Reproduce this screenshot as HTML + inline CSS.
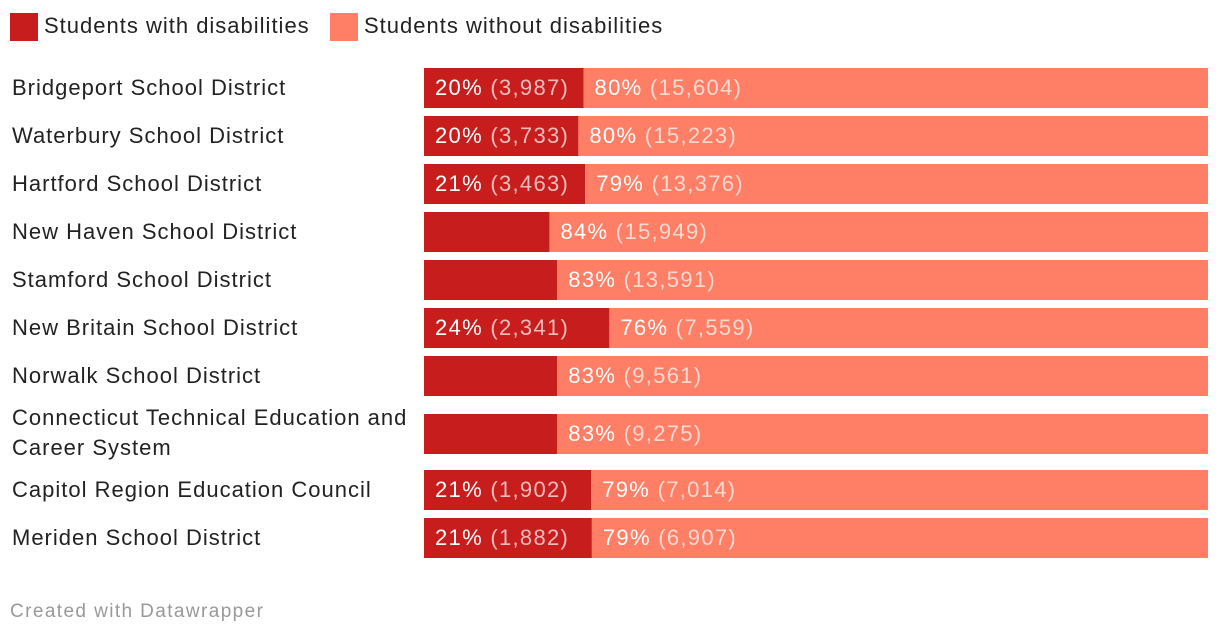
<!DOCTYPE html>
<html><head><meta charset="utf-8"><style>
body{margin:0;background:#fff;width:1220px;height:634px;overflow:hidden;font-family:"Liberation Sans",sans-serif;}
svg{display:block}
</style></head><body>
<svg id="chart" width="1220" height="634" xmlns="http://www.w3.org/2000/svg">
<g>
<rect x="10" y="13" width="28" height="28" fill="#c71e1d"/>
<text x="44" y="33" font-size="22" letter-spacing="1" fill="#222">Students with disabilities</text>
<rect x="330" y="13" width="28" height="28" fill="#ff7f66"/>
<text x="364" y="33" font-size="22" letter-spacing="1" fill="#222">Students without disabilities</text>
</g>
<g id="bars"></g>
<text x="10" y="617" font-size="19" letter-spacing="1.4" fill="#999">Created with Datawrapper</text>
</svg>
<script>
const categories=["Bridgeport School District","Waterbury School District","Hartford School District","New Haven School District","Stamford School District","New Britain School District","Norwalk School District","Connecticut Technical Education and|Career System","Capitol Region Education Council","Meriden School District"];
const withDis=[3987,3733,3463,3038,2784,2341,1958,1900,1902,1882];
const withoutDis=[15604,15223,13376,15949,13591,7559,9561,9275,7014,6907];
const showWith=[true,true,true,false,false,true,false,false,true,true];
const rowTops=[68,116,164,212,260,308,356,414,470,518];
const X0=424,W=784,H=40;
const g=document.getElementById('bars');
const NS="http://www.w3.org/2000/svg";
function xs(v,t){return X0+v/t*W;}
function mk(tag,attrs){const e=document.createElementNS(NS,tag);for(const k in attrs)e.setAttribute(k,attrs[k]);return e;}
function fmt(n){return n.toLocaleString('en-US');}
categories.forEach((c,i)=>{
  const y=rowTops[i],tot=withDis[i]+withoutDis[i];
  const sx=xs(withDis[i],tot);
  const lines=c.split('|');
  const lab=mk('text',{x:12,y:lines.length>1?y+11:y+27,'font-size':22,'letter-spacing':1,fill:'#222'});
  
  
  lines.forEach((l,j)=>{const ts=mk('tspan',{x:12,dy:j?30:0});ts.textContent=l;lab.appendChild(ts);});
  g.appendChild(lab);
  const r1=mk('rect',{x:X0,y:y,width:sx-X0,height:H,fill:'#c71e1d'});
  
  
  g.appendChild(r1);
  const r2=mk('rect',{x:sx,y:y,width:X0+W-sx,height:H,fill:'#ff7f66'});
  
  
  g.appendChild(r2);
  function label(x,pct,cnt,name){
    const t=mk('text',{x:x,y:y+27,'font-size':22,'letter-spacing':1.3,fill:'#fff'});
    
    
    const a=mk('tspan',{});a.textContent=pct+'% ';
    const b=mk('tspan',{'fill-opacity':0.7});b.textContent='('+fmt(cnt)+')';
    t.appendChild(a);t.appendChild(b);g.appendChild(t);
  }
  if(showWith[i])label(X0+11,Math.round(withDis[i]/tot*100),withDis[i],'value-label-with');
  label(sx+11,Math.round(withoutDis[i]/tot*100),withoutDis[i],'value-label-without');
});
</script>
</body></html>
